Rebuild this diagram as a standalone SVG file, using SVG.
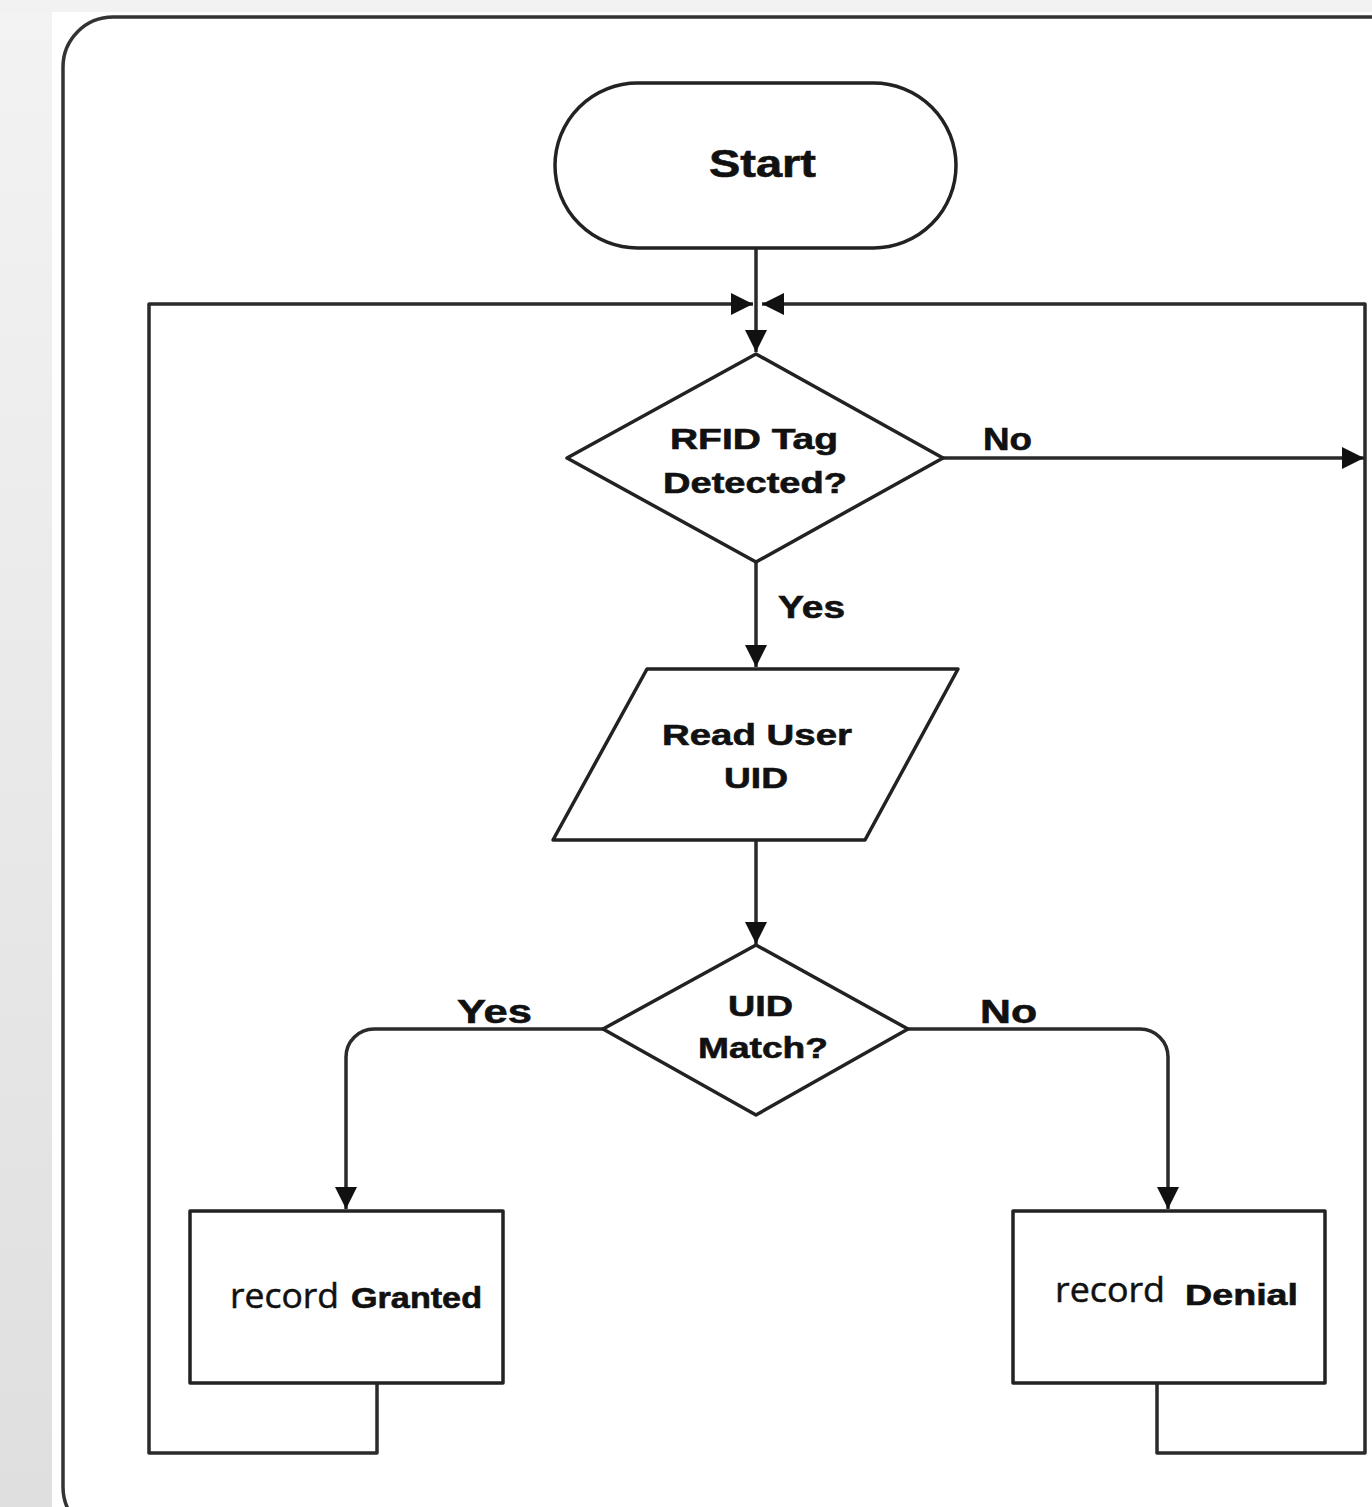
<svg xmlns="http://www.w3.org/2000/svg" width="1372" height="1507" viewBox="0 0 1372 1507">
<defs>
<linearGradient id="bg" x1="0" y1="0" x2="0" y2="1">
<stop offset="0" stop-color="#f3f3f3"/>
<stop offset="1" stop-color="#dfdfdf"/>
</linearGradient>
<marker id="arr" markerUnits="userSpaceOnUse" viewBox="0 0 10 10" markerWidth="24" markerHeight="22" refX="10" refY="5" orient="auto">
<path d="M0,0 L10,5 L0,10 z" fill="#111"/>
</marker>
<style>
.shape{fill:#fff;stroke:#222;stroke-width:3.5;stroke-linejoin:round}
.conn{fill:none;stroke:#2a2a2a;stroke-width:3.5;stroke-linejoin:round;marker-end:url(#arr)}
.lbl{font-family:"Liberation Sans",Arial,sans-serif;font-weight:bold;fill:#111;stroke:#111;stroke-width:0.6}
.rec{font-family:"Open Sans","Noto Sans",sans-serif;fill:#111;stroke:#111;stroke-width:0.5}
</style>
</defs>
<rect x="0" y="0" width="1372" height="1507" fill="url(#bg)"/>
<rect x="0" y="0" width="1372" height="12" fill="#f2f2f2"/>
<rect x="52" y="12" width="1320" height="1495" fill="#fff"/>
<rect x="63" y="17" width="1400" height="1520" rx="50" ry="50" fill="none" stroke="#333" stroke-width="3.5"/>

<g id="connectors">
<path class="conn" d="M756,248 V352"/>
<path class="conn" d="M377,1383 V1453 H149 V304 H753"/>
<path class="conn" d="M1157,1383 V1453 H1365 V304 H762"/>
<path class="conn" d="M943,458 H1364"/>
<path class="conn" d="M756,562 V667"/>
<path class="conn" d="M756,840 V944"/>
<path class="conn" d="M603,1029 H374 A28,28 0 0 0 346,1057 V1209"/>
<path class="conn" d="M908,1029 H1140 A28,28 0 0 1 1168,1057 V1209"/>
<text class="lbl" x="983" y="450" font-size="32" textLength="49" lengthAdjust="spacingAndGlyphs">No</text>
<text class="lbl" x="778" y="618" font-size="32" textLength="67" lengthAdjust="spacingAndGlyphs">Yes</text>
<text class="lbl" x="457" y="1023" font-size="34" textLength="75" lengthAdjust="spacingAndGlyphs">Yes</text>
<text class="lbl" x="980" y="1023" font-size="34" textLength="57" lengthAdjust="spacingAndGlyphs">No</text>
</g>

<g id="start">
<rect class="shape" x="555" y="83" width="401" height="165" rx="82.5" ry="82.5"/>
<text class="lbl" x="709" y="177" font-size="38" textLength="107" lengthAdjust="spacingAndGlyphs">Start</text>
</g>

<g id="rfid-detected">
<polygon class="shape" points="756,354 943,458 756,562 567,458"/>
<text class="lbl" x="670" y="449" font-size="30" textLength="168" lengthAdjust="spacingAndGlyphs">RFID Tag</text>
<text class="lbl" x="663" y="493" font-size="30" textLength="184" lengthAdjust="spacingAndGlyphs">Detected?</text>
</g>

<g id="read-uid">
<polygon class="shape" points="647,669 958,669 865,840 553,840"/>
<text class="lbl" x="662" y="745" font-size="30" textLength="190" lengthAdjust="spacingAndGlyphs">Read User</text>
<text class="lbl" x="724" y="788" font-size="30" textLength="64" lengthAdjust="spacingAndGlyphs">UID</text>
</g>

<g id="uid-match">
<polygon class="shape" points="756,945 908,1029 756,1115 603,1029"/>
<text class="lbl" x="728" y="1016" font-size="30" textLength="65" lengthAdjust="spacingAndGlyphs">UID</text>
<text class="lbl" x="698" y="1058" font-size="30" textLength="130" lengthAdjust="spacingAndGlyphs">Match?</text>
</g>

<g id="record-granted">
<rect class="shape" x="190" y="1211" width="313" height="172"/>
<text class="rec" x="230" y="1308" font-size="34" textLength="109" lengthAdjust="spacingAndGlyphs">record</text>
<text class="lbl" x="351" y="1308" font-size="29" textLength="131" lengthAdjust="spacingAndGlyphs">Granted</text>
</g>

<g id="record-denial">
<rect class="shape" x="1013" y="1211" width="312" height="172"/>
<text class="rec" x="1055" y="1302" font-size="34" textLength="110" lengthAdjust="spacingAndGlyphs">record</text>
<text class="lbl" x="1185" y="1305" font-size="30" textLength="113" lengthAdjust="spacingAndGlyphs">Denial</text>
</g>
</svg>
